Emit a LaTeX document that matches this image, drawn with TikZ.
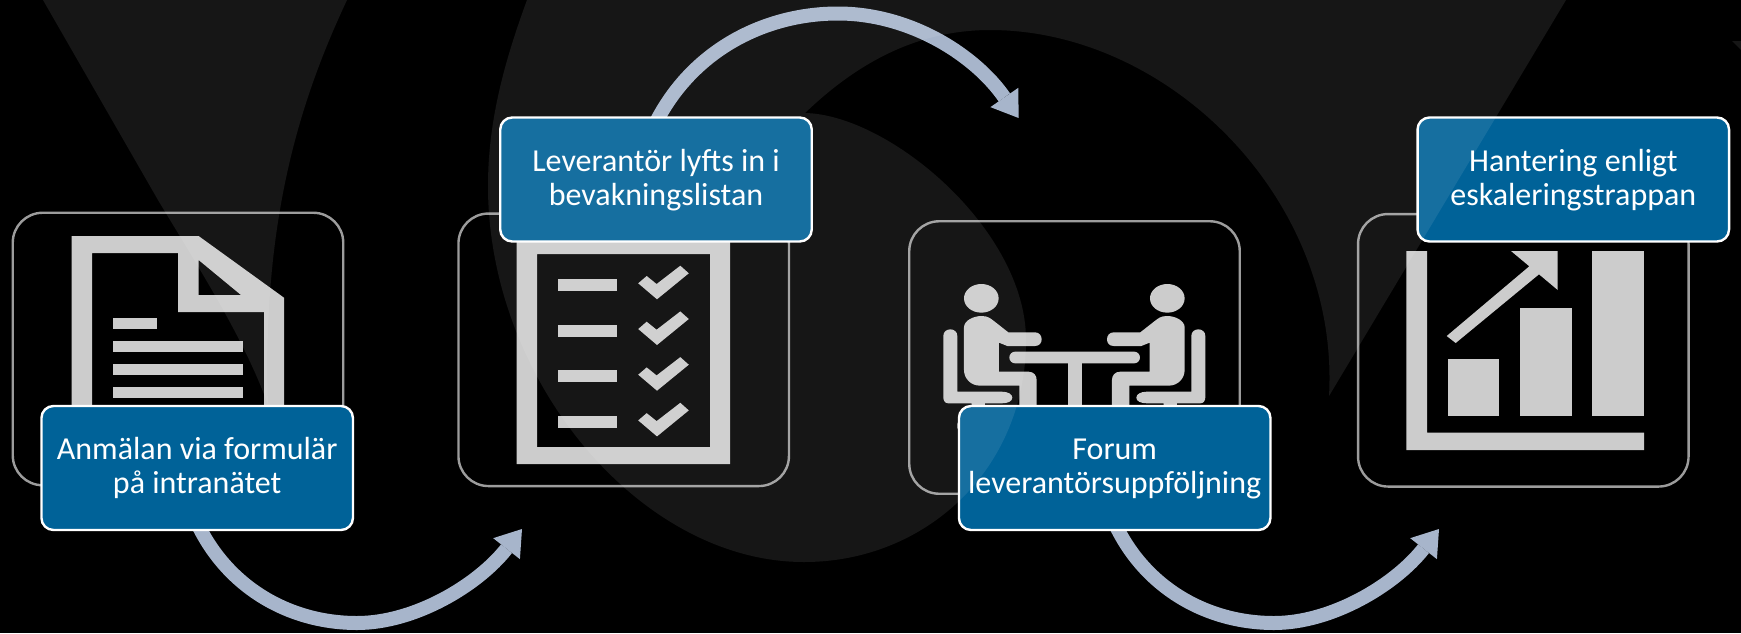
\documentclass[tikz,border=0pt]{standalone}
\usepackage{fontspec}
\setmainfont{Carlito}
\usetikzlibrary{arrows.meta}
\pgfdeclarelayer{backdrop}
\pgfdeclarelayer{links}
\pgfsetlayers{backdrop,links,main}
\definecolor{iconc}{HTML}{CCCCCC}
\definecolor{boxc}{HTML}{9C9C9C}
\definecolor{labelc}{HTML}{006298}
\definecolor{arrowc}{HTML}{A7B5CB}
\newcommand{\lowtext}[2]{\rule{0pt}{26pt}#1\\#2\rule[-10pt]{0pt}{10pt}}
\newcommand{\hightext}[2]{\rule{0pt}{28pt}#1\\#2\rule[-10pt]{0pt}{10pt}}
\tikzset{
  framebox/.style={draw=boxc,line width=2.4pt,rounded corners=30pt,minimum width=330.5pt,minimum height=272.5pt,inner sep=0pt},
  labelbox/.style={draw=white,line width=2.4pt,fill=labelc,rounded corners=12pt,minimum width=311.5pt,minimum height=124pt,inner sep=0pt,text=white,align=center,font=\fontsize{32}{34}\selectfont},
  flow/.style={draw=arrowc,line width=14pt,-{Triangle[length=25pt,width=34pt,line width=0pt]}},
  icon/.style={fill=iconc},
  logo/.style={fill=white,fill opacity=0.086}
}
\newcommand{\seatedperson}{%
  \fill[icon] (245,318) .. controls (265,318) and (272,326) .. (283,334) -- (325,367) -- (405,367)
    .. controls (418,367) and (425,377) .. (425,388) .. controls (425,399) and (418,408) .. (405,408)
    -- (322,408) -- (297,398) -- (297,485) -- (385,485) .. controls (402,485) and (410,497) .. (410,510)
    -- (410,600) -- (358,600) -- (358,527) -- (240,527) .. controls (212,527) and (192,505) .. (192,480)
    -- (192,352) .. controls (192,332) and (220,318) .. (245,318) -- cycle;
  \fill[icon] (244,265) ellipse [x radius=52,y radius=43];
  \fill[icon] (130,378) .. controls (130,365) and (140,358) .. (151,358) .. controls (162,358) and (172,365) .. (172,378)
    -- (172,545) -- (305,545) .. controls (325,545) and (337,553) .. (337,563) .. controls (337,573) and (325,580) .. (305,580)
    -- (255,580) -- (255,600) -- (215,600) -- (215,580) -- (145,580) .. controls (135,580) and (130,572) .. (130,562) -- cycle;
  \fill[icon,rounded corners=4pt] (172,630) rectangle (330,665);
}
\begin{document}
\begin{tikzpicture}[x=1pt,y=-1pt]
\useasboundingbox (0,0) rectangle (1741,633);
\begin{pgfonlayer}{backdrop}
\fill[black] (0,0) rectangle (1741,633);
\end{pgfonlayer}

% frames
\node[framebox] (b1) at (178,349) {};
\node[framebox] (b2) at (623.7,349.8) {};
\node[framebox] (b3) at (1074.5,357.5) {};
\node[framebox] (b4) at (1523.3,350.3) {};

% document icon
\fill[icon,even odd rule] (71.5,236) -- (198.6,236) -- (284,297.7) -- (284,440) -- (71.5,440) -- cycle
  (92,253) -- (178,253) -- (178,312) -- (264,312) -- (264,440) -- (92,440) -- cycle
  (198.6,260) -- (241,295) -- (198.6,295) -- cycle;
\fill[icon] (113,318) rectangle (157,329);
\fill[icon] (113,341) rectangle (243,352);
\fill[icon] (113,364) rectangle (243,375);
\fill[icon] (113,387) rectangle (243,398);

% checklist icon
\fill[icon,even odd rule] (516.5,230) rectangle (730,464) (537,254) rectangle (710,447);
\foreach \dy in {0,45.7,91.4,137.1}{
  \fill[icon] (558,279+\dy) rectangle (617,291+\dy);
  \fill[icon] (680.3,265.7+\dy) -- (688.8,273.3+\dy) -- (657,299.3+\dy) -- (638.2,283.3+\dy) -- (646.7,276+\dy) -- (656.6,284+\dy) -- cycle;
}

% meeting icon
\begin{scope}[x=0.33333pt,y=-0.33333pt,shift={(2700,630)}]
  \seatedperson
  \fill[icon,rounded corners=5.8pt] (328,425) rectangle (720,460);
  \fill[icon] (503,450) rectangle (545,600);
\end{scope}
\begin{scope}[x=0.33333pt,y=-0.33333pt,shift={(3746,630)},xscale=-1]
  \seatedperson
\end{scope}

% chart icon
\fill[icon] (1406.3,251) -- (1427,251) -- (1427,432.7) -- (1644,432.7) -- (1644,450) -- (1406.3,450) -- cycle;
\fill[icon] (1447.7,359) rectangle (1499.3,415.7);
\fill[icon] (1520,308) rectangle (1571.7,415.7);
\fill[icon] (1592.3,251) rectangle (1644,415.7);
\fill[icon] (1446.7,336) -- (1455.7,343) -- (1539,274.3) -- (1557.7,290) -- (1557.7,251) -- (1511,251) -- (1529.3,266.3) -- cycle;

% labels
\node[labelbox] (l1) at (197.2,468) {\lowtext{Anmälan via formulär}{på intranätet}};
\node[labelbox] (l2) at (656,179.5) {\hightext{Leverantör lyfts in i}{bevakningslistan}};
\node[labelbox] (l3) at (1114.7,468) {\lowtext{Forum}{leverantörsuppföljning}};
\node[labelbox] (l4) at (1573.3,179.5) {\hightext{Hantering enligt}{eskaleringstrappan}};

% arrow targets
\coordinate (t1) at (522,529);
\coordinate (t2) at (1018.6,118);
\coordinate (t3) at (1439,529);

% arrows, under the labels
\begin{pgfonlayer}{links}
\draw[flow] ([shift={(0,-8)}]l1.south) .. controls (228,588) and (290,623) .. (357,623) .. controls (415,623) and (478,585) .. (t1);
\draw[flow] ([shift={(-1,8)}]l2.north) .. controls (692,50) and (765,13.5) .. (838,13.5) .. controls (910,13.5) and (975,55) .. (t2);
\draw[flow] ([shift={(0,-8)}]l3.south) .. controls (1145,588) and (1207,623) .. (1274,623) .. controls (1332,623) and (1395,585) .. (t3);
\end{pgfonlayer}

% background logo, laid over everything
\fill[logo] (527,0) -- (1566,0) -- (1329,396)
  .. controls (1340,200) and (1170,30) .. (990,30)
  .. controls (915,30) and (855,65) .. (805,113)
  .. controls (890,115) and (1026,230) .. (1026,340)
  .. controls (1026,470) and (925,562) .. (804,562)
  .. controls (640,562) and (488,380) .. (488,186)
  .. controls (488,120) and (505,60) .. (527,0) -- cycle;
\fill[logo] (43,0) -- (347,0)
  .. controls (300,100) and (262,220) .. (268,405)
  .. controls (245,340) and (200,270) .. (158,200) -- cycle;
\fill[logo] (1732,41) -- (1741,41) -- (1741,50) -- cycle;
\end{tikzpicture}
\end{document}
